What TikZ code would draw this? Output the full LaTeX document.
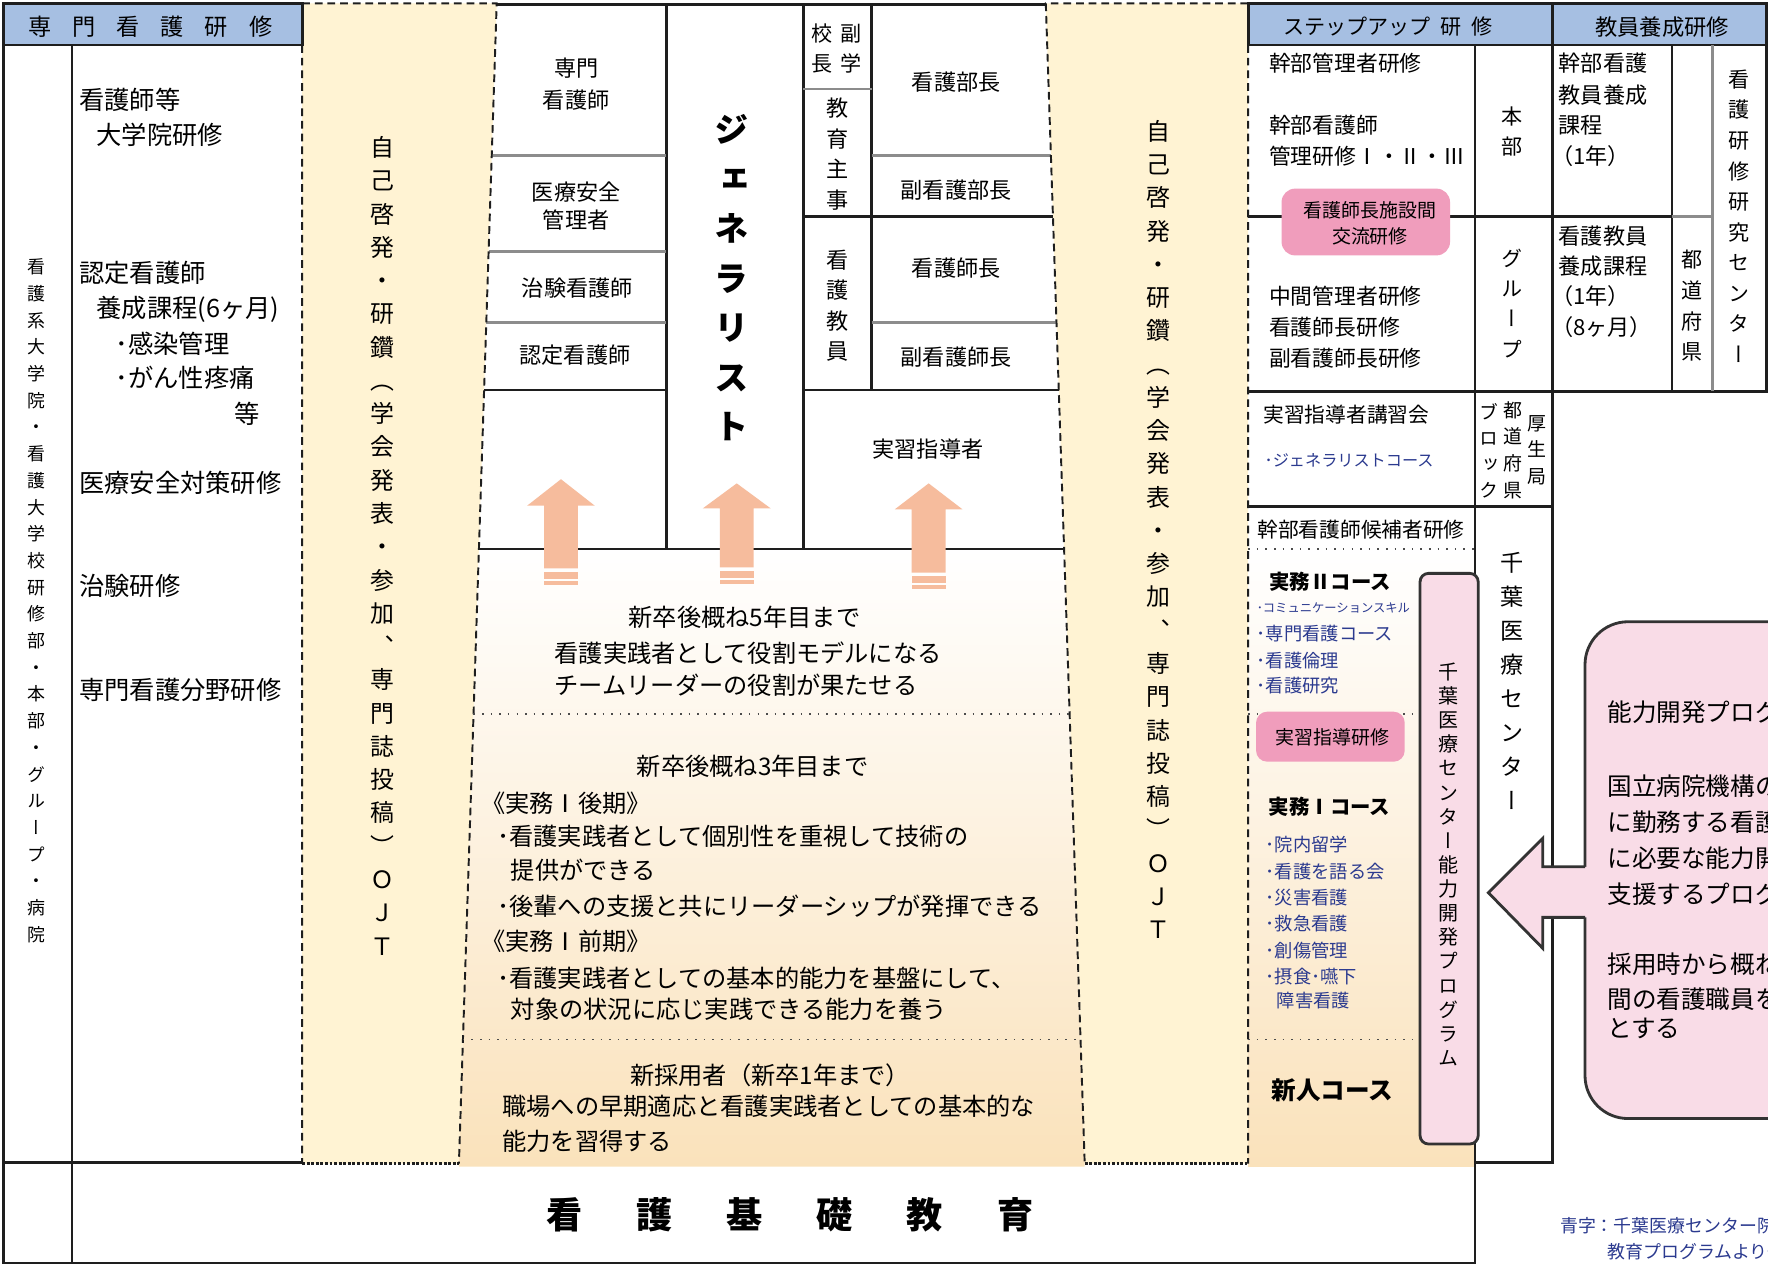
\documentclass[tikz,border=0pt]{standalone}
\usepackage{fontspec}
\setmainfont{Noto Sans CJK JP}
\newfontfamily\vfont[Script=CJK,RawFeature=+vert]{Noto Sans CJK JP}
\definecolor{hdrblue}{HTML}{A6BFE2}
\definecolor{cream}{HTML}{FFF3D3}
\definecolor{peach}{HTML}{FAE2BB}
\definecolor{salmon}{HTML}{F6BC9D}
\definecolor{rose}{HTML}{F09DBC}
\definecolor{palepink}{HTML}{F9DCE7}
\definecolor{navy}{HTML}{2B3A8F}
\definecolor{rule}{HTML}{1E1E1E}
% stack the characters of #1 one above the other
\makeatletter
\newcommand\tate[1]{\vbox{\tate@b#1\@nil}}
\def\tate@b#1{\ifx\@nil#1\else\hbox to 1em{\hss#1\hss}\expandafter\tate@b\fi}
\makeatother
\tikzset{
  txt/.style={inner sep=0pt, font=\fontsize{#1}{#1}\selectfont},
  cell/.style 2 args={inner sep=0pt, align=center, font=\fontsize{#1}{#2}\selectfont},
  tatetxt/.style 2 args={inner sep=0pt, font=\vfont\fontsize{#1}{#2}\selectfont},
  frame/.style={draw=rule, line width=0.75pt},
  cellline/.style={draw=black!45, line width=0.75pt},
  band/.style={draw=rule, line width=0.55pt, dash pattern=on 2.2pt off 1.4pt},
  bandfoot/.style={draw=rule, line width=0.8pt, dash pattern=on 0.8pt off 0.5pt},
  sep/.style={draw=black!70, line width=0.45pt, dotted},
  hdr/.style={fill=hdrblue, draw=rule, line width=0.75pt},
  bluetxt/.style={text=navy},
  pinkline/.style={draw=black!80, line width=0.8pt},
}
\begin{document}
\begin{tikzpicture}[x=0.1128mm, y=-0.1128mm]
\useasboundingbox (0,0) rectangle (1568,1121);
\clip (0,0) rectangle (1568,1121);
\fill[white] (0,0) rectangle (1568,1121);

% bands and shaded levels
\fill[cream] (268,3) -- (440.5,3) -- (407,1032) -- (268,1032) -- cycle;
\fill[cream] (927.5,3) -- (1107,3) -- (1107,1032) -- (962,1032) -- cycle;
\shade[top color=white, bottom color=peach] (424.7,487) -- (943.8,487) -- (962,1034.7) -- (407,1034.7) -- cycle;
\shade[top color=white, bottom color=peach] (1107,487) -- (1308,487) -- (1308,1034.7) -- (1107,1034.7) -- cycle;

% headers
\draw[hdr] (3,3) rectangle (268,40);
\draw[hdr] (1107,3) rectangle (1377,40);
\draw[hdr] (1377,3) rectangle (1566.5,40);

% outer frame
\draw[frame] (3,40) -- (3,1120) -- (1308,1120) -- (1308,40);
\draw[frame] (64,40) -- (64,1120);
\draw[frame] (3,1031) -- (268,1031);
\draw[frame] (1308,1031) -- (1377,1031) -- (1377,40);

% centre table
\draw[frame] (440.5,4) -- (927.5,4);
\draw[frame] (591,4) -- (591,487) (712.5,4) -- (712.5,487) (773,4) -- (773,346);
\draw[frame] (712.5,192) -- (933.8,192) (429.3,346) -- (591,346)
  (712.5,346) -- (939.1,346) (424.7,487) -- (943.8,487);
\draw[cellline] (436.1,138) -- (591,138) (433.3,223) -- (591,223) (431.2,286) -- (591,286)
  (712.5,79) -- (773,79) (773,138) -- (932,138) (773,286) -- (937,286);

% right table
\draw[frame] (1107,192) -- (1483,192) (1483,40) -- (1483,347) (1566.5,40) -- (1566.5,347)
  (1107,347) -- (1568,347) (1107,449) -- (1377,449);
\draw[cellline] (1483,192) -- (1518.5,192) (1518.5,40) -- (1518.5,347);

% band edges
\draw[band] (268,40) -- (268,1032) (268,3) -- (440.5,3) -- (407,1032);
\draw[band] (1107,40) -- (1107,1032) (1107,3) -- (927.5,3) -- (962,1032);
\draw[bandfoot] (268,1032) -- (407,1032) (962,1032) -- (1107,1032);
\draw[sep] (419.9,633) -- (948.7,633) (410.5,922) -- (958.4,922);
\draw[sep] (1107,487) -- (1308,487) (1107,633) -- (1259,633) (1107,922) -- (1259,922);

% upward arrows
\foreach \x/\t/\b/\e in {497.5/425/448.5/504, 653.4/428.7/450.8/503.2, 823.6/428.7/451.7/507.9}
{
  \fill[salmon] (\x,\t) -- (\x+30,\b) -- (\x+15,\b) -- (\x+15,\e) -- (\x-15,\e) -- (\x-15,\b) -- (\x-30,\b) -- cycle;
  \fill[salmon] (\x-15,\e+3.3) rectangle (\x+15,\e+9.5);
  \fill[salmon] (\x-15,\e+11.3) rectangle (\x+15,\e+14.8);
}

% pink boxes and callout
\fill[rose, rounded corners=1.35mm] (1136.6,167.3) rectangle (1286,226.5);
\fill[rose, rounded corners=1.1mm] (1114,631.2) rectangle (1245.8,675.5);
\draw[pinkline, fill=palepink, rounded corners=0.85mm] (1259.4,508.5) rectangle (1311,1014.6);
\draw[pinkline, fill=palepink, rounded corners=4.3mm] (1405.7,551.4) rectangle (1650,992);
\fill[palepink] (1410,768.7) -- (1368.2,768.7) -- (1368.2,743.5) -- (1320,791.7) -- (1368.2,841)
  -- (1368.2,813.6) -- (1410,813.6) -- cycle;
\draw[pinkline] (1405.7,768.7) -- (1368.2,768.7) -- (1368.2,743.5) -- (1320,791.7) -- (1368.2,841)
  -- (1368.2,813.6) -- (1405.7,813.6);

% left part
\node[txt=6.6] (hdrspec) at (133.2,23.6) {専\hspace{2.1mm}門\hspace{2.1mm}看\hspace{2.1mm}護\hspace{2.1mm}研\hspace{2.1mm}修};
\node[tatetxt={5.1}{7.6}] (univ) at (32.3,532.8) {\tate{看護系大学院・看護大学校研修部・本部・グループ・病院}};
\node[txt=7.2, anchor=west] (grad1) at (69.6,88.7) {看護師等};
\node[txt=7.2, anchor=west] (grad2) at (84.9,119.7) {大学院研修};
\node[txt=7.2, anchor=west] (cert1) at (69.6,242.4) {認定看護師};
\node[txt=7.2, anchor=west] (cert2) at (84.9,274) {養成課程(6ヶ月)};
\node[txt=7.2, anchor=west] (cert3) at (101.8,304.5) {･感染管理};
\node[txt=7.2, anchor=west] (cert4) at (101.8,335.5) {･がん性疼痛};
\node[txt=7.2, anchor=west] (cert5) at (207,366.6) {等};
\node[txt=7.2, anchor=west] (safety) at (69.6,428) {医療安全対策研修};
\node[txt=7.2, anchor=west] (trial) at (69.6,520) {治験研修};
\node[txt=7.2, anchor=west] (field) at (69.6,612) {専門看護分野研修};
\node[tatetxt={6.8}{9.47}] (selfL) at (339.4,484) {\tate{自己啓発・研鑽（学会発表・参加、専門誌投稿）ＯＪＴ}};
\node[tatetxt={6.8}{9.47}] (selfR) at (1027.7,469.5) {\tate{自己啓発・研鑽（学会発表・参加、専門誌投稿）ＯＪＴ}};

% centre table texts
\node[cell={6.3}{9}] (cns) at (511,74.6) {専門\\看護師};
\node[cell={6.3}{8}] (risk) at (511,182.5) {医療安全\\管理者};
\node[txt=6.3] (crc) at (512,255.7) {治験看護師};
\node[txt=6.3] (cn) at (510,315) {認定看護師};
\node[tatetxt={9.8}{14.1}] (generalist) at (649.3,246.5) {\bfseries\tate{ジェネラリスト}};
\node[tatetxt={6}{8.5}] (vice1) at (754.5,42.9) {\tate{副学}};
\node[tatetxt={6}{8.5}] (vice2) at (729,42.9) {\tate{校長}};
\node[tatetxt={6.3}{8.7}] (edu) at (742.6,136.7) {\tate{教育主事}};
\node[tatetxt={6.3}{8.7}] (teacher) at (742.6,271.2) {\tate{看護教員}};
\node[txt=6.3] (dir) at (848,72.4) {看護部長};
\node[txt=6.3] (vdir) at (848,168.5) {副看護部長};
\node[txt=6.3] (head) at (848,238) {看護師長};
\node[txt=6.3] (vhead) at (848,316.4) {副看護師長};
\node[txt=6.3] (preceptor) at (823,398) {実習指導者};

% centre levels
\node[txt=6.9] (lvA1) at (660.3,547.5) {新卒後概ね5年目まで};
\node[txt=6.9, anchor=west] (lvA2) at (491.2,578.9) {看護実践者として役割モデルになる};
\node[txt=6.9, anchor=west] (lvA3) at (491.2,607.5) {チームリーダーの役割が果たせる};
\node[txt=6.9] (lvB1) at (667.5,680) {新卒後概ね3年目まで};
\node[txt=6.9, anchor=west] (lvB2) at (426,712.5) {《実務Ⅰ後期》};
\node[txt=6.9, anchor=west] (lvB3) at (440.3,742) {･看護実践者として個別性を重視して技術の};
\node[txt=6.9, anchor=west] (lvB4) at (452.5,771.6) {提供ができる};
\node[txt=6.9, anchor=west] (lvB5) at (440.3,804.1) {･後輩への支援と共にリーダーシップが発揮できる};
\node[txt=6.9, anchor=west] (lvB6) at (426,835.2) {《実務Ⅰ前期》};
\node[txt=6.9, anchor=west] (lvB7) at (440.3,867.7) {･看護実践者としての基本的能力を基盤にして、};
\node[txt=6.9, anchor=west] (lvB8) at (452.5,895.5) {対象の状況に応じ実践できる能力を養う};
\node[txt=6.9] (lvC1) at (683,953.4) {新採用者（新卒1年まで）};
\node[txt=6.9, anchor=west] (lvC2) at (445,981.5) {職場への早期適応と看護実践者としての基本的な};
\node[txt=6.9, anchor=west] (lvC3) at (445,1012.5) {能力を習得する};
\node[txt=10.3] (basic) at (700.5,1077.6) {\bfseries 看\hspace{5.4mm}護\hspace{5.4mm}基\hspace{5.4mm}礎\hspace{5.4mm}教\hspace{5.4mm}育};

% right part
\node[txt=6] (hdrstep) at (1231,23.8) {ステップアップ\hspace{1mm}研\hspace{1mm}修};
\node[txt=6.35] (hdrteach) at (1474,23.8) {教員養成研修};
\node[txt=6.2, anchor=west] (exec) at (1125,56.4) {幹部管理者研修};
\node[txt=6.2, anchor=west] (mgr1) at (1125,110.9) {幹部看護師};
\node[txt=6.2, anchor=west] (mgr2) at (1125,138.4) {管理研修Ⅰ・Ⅱ・Ⅲ};
\node[cell={5.4}{7.5}] (exchange) at (1215,198) {看護師長施設間\\交流研修};
\node[txt=6.2, anchor=west] (mid1) at (1125,262.9) {中間管理者研修};
\node[txt=6.2, anchor=west] (mid2) at (1125,289.8) {看護師長研修};
\node[txt=6.2, anchor=west] (mid3) at (1125,317.4) {副看護師長研修};
\node[txt=5.9, anchor=west] (lecture) at (1119.9,368) {実習指導者講習会};
\node[txt=4.6, bluetxt, anchor=west] (gencourse) at (1121,408) {･ジェネラリストコース};
\node[txt=5.9, anchor=west] (cand) at (1114.5,470) {幹部看護師候補者研修};
\node[txt=5.8, anchor=west] (prac2) at (1125.3,516) {\bfseries 実務Ⅱコース};
\node[txt=3.5, bluetxt, anchor=west] (p2a) at (1114,539.5) {･コミュニケーションスキル};
\node[txt=5.2, bluetxt, anchor=west] (p2b) at (1114,561.7) {･専門看護コース};
\node[txt=5.2, bluetxt, anchor=west] (p2c) at (1114,585.4) {･看護倫理};
\node[txt=5.2, bluetxt, anchor=west] (p2d) at (1114,607.9) {･看護研究};
\node[txt=5.4] (clinical) at (1181.4,654.2) {実習指導研修};
\node[txt=5.8, anchor=west] (prac1) at (1124.7,715.6) {\bfseries 実務Ⅰコース};
\node[txt=5.2, bluetxt, anchor=west] (p1a) at (1122,749.2) {･院内留学};
\node[txt=5.2, bluetxt, anchor=west] (p1b) at (1122,773) {･看護を語る会};
\node[txt=5.2, bluetxt, anchor=west] (p1c) at (1122,796.3) {･災害看護};
\node[txt=5.2, bluetxt, anchor=west] (p1d) at (1122,818.8) {･救急看護};
\node[txt=5.2, bluetxt, anchor=west] (p1e) at (1122,842.6) {･創傷管理};
\node[txt=5.2, bluetxt, anchor=west] (p1f) at (1122,865.9) {･摂食･嚥下};
\node[txt=5.2, bluetxt, anchor=west] (p1g) at (1131.7,887.6) {障害看護};
\node[txt=7, anchor=west] (newcomer) at (1127,966.7) {\bfseries 新人コース};
\node[tatetxt={5.7}{6.87}] (program) at (1285,766.6) {\tate{千葉医療センター能力開発プログラム}};

\node[tatetxt={6}{8.6}] (hq) at (1341.3,116.5) {\tate{本部}};
\node[tatetxt={6}{8.6}] (grp) at (1341.3,269) {\tate{グループ}};
\node[tatetxt={5.4}{7.45}] (block) at (1320.5,399.8) {\tate{ブロック}};
\node[tatetxt={5.4}{7.6}] (pref) at (1341.6,399.1) {\tate{都道府県}};
\node[tatetxt={5.4}{7.6}] (bureau) at (1363,399.1) {\tate{厚生局}};
\node[tatetxt={6.6}{9.7}] (chiba) at (1341,604) {\tate{千葉医療センター}};

\node[txt=6.3, anchor=west] (tA1) at (1381.8,56.4) {幹部看護};
\node[txt=6.3, anchor=west] (tA2) at (1381.8,84) {教員養成};
\node[txt=6.3, anchor=west] (tA3) at (1381.8,110.9) {課程};
\node[txt=6.3, anchor=west] (tA4) at (1375,138.4) {（1年）};
\node[txt=6.3, anchor=west] (tB1) at (1381.8,209) {看護教員};
\node[txt=6.3, anchor=west] (tB2) at (1381.8,236) {養成課程};
\node[txt=6.3, anchor=west] (tB3) at (1375,262.9) {（1年）};
\node[txt=6.3, anchor=west] (tB4) at (1375,289.8) {（8ヶ月）};
\node[tatetxt={6}{8.7}] (prefT) at (1500.5,271.3) {\tate{都道府県}};
\node[tatetxt={6}{8.7}] (nrc) at (1542,191.7) {\tate{看護研修研究センター}};

% callout text
\node[txt=7, anchor=west] (aim1) at (1425,632) {能力開発プログ};
\node[txt=7, anchor=west] (aim2) at (1425,697) {国立病院機構の};
\node[txt=7, anchor=west] (aim3) at (1425,729) {に勤務する看護};
\node[txt=7, anchor=west] (aim4) at (1425,761) {に必要な能力開};
\node[txt=7, anchor=west] (aim5) at (1425,793) {支援するプログ};
\node[txt=7, anchor=west] (aim6) at (1425,855) {採用時から概ね};
\node[txt=7, anchor=west] (aim7) at (1425,886) {間の看護職員を};
\node[txt=7, anchor=west] (aim8) at (1425,912) {とする};
\node[txt=5.1, bluetxt, anchor=west] (note1) at (1383,1087) {青字：千葉医療センター院};
\node[txt=5.1, bluetxt, anchor=west] (note2) at (1425,1110) {教育プログラムより一};
\end{tikzpicture}
\end{document}
